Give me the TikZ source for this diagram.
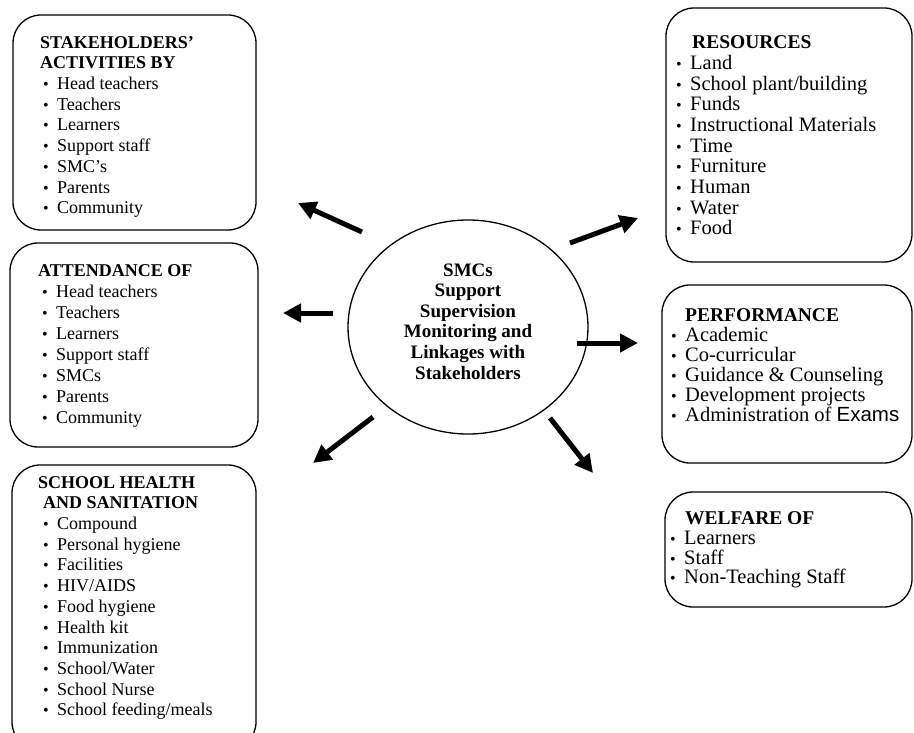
\documentclass[tikz,border=0pt]{standalone}
\usepackage{fontspec}
\setmainfont{Liberation Serif}
\newfontfamily\exsans{Liberation Sans}
\usetikzlibrary{arrows.meta,shapes.geometric}
\newcommand{\itm}[1]{\makebox[14pt][l]{\fontsize{16}{16}\selectfont\textbullet}#1}
\newcommand{\rttl}[1]{{\fontsize{19.5}{20}\selectfont\textbf{#1}}}
\begin{document}
\begin{tikzpicture}[x=1pt,y=-1pt,
  box/.style={draw,line width=1.3pt,rounded corners=28pt},
  lst/.style={anchor=north west,inner sep=0pt,align=left,font=\fontsize{18}{20.7}\selectfont},
  lstr/.style={lst,font=\fontsize{20.5}{#1}\selectfont},
  hub/.style={draw,ellipse,line width=1.3pt,minimum width=240pt,minimum height=214pt,inner sep=0pt},
  hubtxt/.style={inner sep=0pt,align=center,font=\fontsize{19}{20.6}\selectfont\bfseries},
  arr/.style={line width=5pt,-{Triangle[length=18pt,width=18pt]}}]
  \useasboundingbox (0,0) rectangle (914,733);
  \clip (0,0) rectangle (914,733);
  % boxes round the hub
  \node (stk) [box,minimum width=243pt,minimum height=215pt] at (134.5,122.5) {};
  \node (att) [box,minimum width=248pt,minimum height=204pt] at (134,345) {};
  \node (hlt) [box,minimum width=244pt,minimum height=285pt] at (134,607.5) {};
  \node (res) [box,minimum width=246pt,minimum height=254pt] at (789,135) {};
  \node (prf) [box,minimum width=250pt,minimum height=178pt] at (787,374) {};
  \node (wlf) [box,minimum width=247pt,minimum height=115pt] at (788.5,549.5) {};
  % their lists
  \node (stktxt) [lst] at (40,36) {\textbf{STAKEHOLDERS'}\\\textbf{ACTIVITIES BY}\\
    \hspace*{3pt}\itm{Head teachers}\\\hspace*{3pt}\itm{Teachers}\\\hspace*{3pt}\itm{Learners}\\
    \hspace*{3pt}\itm{Support staff}\\\hspace*{3pt}\itm{SMC's}\\\hspace*{3pt}\itm{Parents}\\
    \hspace*{3pt}\itm{Community}};
  \node (atttxt) [lst,font=\fontsize{18}{21}\selectfont] at (38,264) {\textbf{ATTENDANCE OF}\\
    \hspace*{4pt}\itm{Head teachers}\\\hspace*{4pt}\itm{Teachers}\\\hspace*{4pt}\itm{Learners}\\
    \hspace*{4pt}\itm{Support staff}\\\hspace*{4pt}\itm{SMCs}\\\hspace*{4pt}\itm{Parents}\\
    \hspace*{4pt}\itm{Community}};
  \node (hlttxt) [lst] at (38,476) {\textbf{SCHOOL HEALTH}\\\hspace*{5pt}\textbf{AND SANITATION}\\
    \hspace*{5pt}\itm{Compound}\\\hspace*{5pt}\itm{Personal hygiene}\\\hspace*{5pt}\itm{Facilities}\\
    \hspace*{5pt}\itm{HIV/AIDS}\\\hspace*{5pt}\itm{Food hygiene}\\\hspace*{5pt}\itm{Health kit}\\
    \hspace*{5pt}\itm{Immunization}\\\hspace*{5pt}\itm{School/Water}\\\hspace*{5pt}\itm{School Nurse}\\
    \hspace*{5pt}\itm{School feeding/meals}};
  \node (restxt) [lstr=20.7] at (676,35.5) {\hspace*{16pt}\rttl{RESOURCES}\\
    \itm{Land}\\\itm{School plant/building}\\\itm{Funds}\\\itm{Instructional Materials}\\
    \itm{Time}\\\itm{Furniture}\\\itm{Human}\\\itm{Water}\\\itm{Food}};
  \node (prftxt) [lstr=20] at (671,308.5) {\hspace*{14pt}\rttl{PERFORMANCE}\\
    \itm{Academic}\\\itm{Co-curricular}\\\itm{Guidance \& Counseling}\\
    \itm{Development projects}\\\itm{Administration of {\exsans Exams}}};
  \node (wlftxt) [lstr=19.7] at (670,511.5) {\hspace*{15pt}\rttl{WELFARE OF}\\
    \itm{Learners}\\\itm{Staff}\\\itm{Non-Teaching Staff}};
  % the hub
  \node (hub) [hub] at (468,327) {};
  \node (hubtext) [hubtxt] at (468,321.5) {SMCs\\Support\\Supervision\\Monitoring and\\Linkages with\\Stakeholders};
  % arrows
  \coordinate (fromstk) at (362,232); \coordinate (tostk) at (298,203);
  \coordinate (fromres) at (570,243); \coordinate (tores) at (638,218);
  \coordinate (fromatt) at (333,313); \coordinate (toatt) at (283,313);
  \coordinate (fromprf) at (577,343); \coordinate (toprf) at (638,343);
  \coordinate (fromhlt) at (373,417); \coordinate (tohlt) at (313,463);
  \coordinate (fromwlf) at (550,418); \coordinate (towlf) at (593,473);
  \draw[arr] (fromstk) -- (tostk);
  \draw[arr] (fromres) -- (tores);
  \draw[arr] (fromatt) -- (toatt);
  \draw[arr] (fromprf) -- (toprf);
  \draw[arr] (fromhlt) -- (tohlt);
  \draw[arr] (fromwlf) -- (towlf);
\end{tikzpicture}
\end{document}
